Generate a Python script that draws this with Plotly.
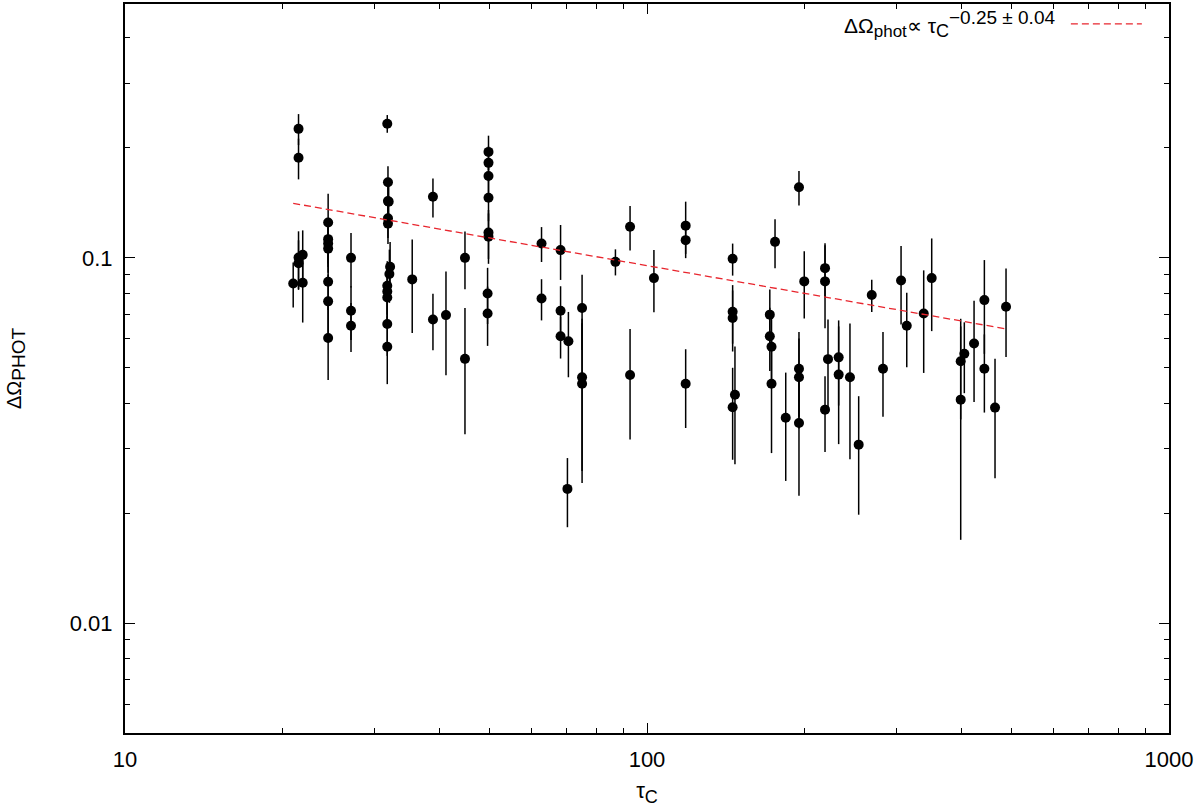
"""Photometric differential rotation vs convective turnover time (log-log)."""
import plotly.graph_objects as go

# convective turnover time (days)
tau_c = [21.0, 21.5, 21.5, 21.5, 21.5, 21.9, 21.9,
         24.5, 24.5, 24.5, 24.5, 24.5, 24.5, 24.5,
         27.1, 27.1, 27.1,
         31.8, 31.9, 31.9, 32.0, 31.9, 31.9, 32.2, 32.1, 31.8, 31.8, 31.8, 31.8, 31.8,
         35.5, 38.9, 38.9, 41.2, 44.8, 44.8,
         49.7, 49.7, 49.7, 49.7, 49.7, 49.7, 49.5, 49.5,
         62.8, 62.8, 68.3, 68.3, 68.3, 70.7, 70.4, 75.1, 75.1, 75.1,
         87.0, 92.8, 92.8, 103.1, 118.6, 118.6, 118.6,
         145.9, 145.9, 145.9, 147.4, 145.9,
         171.9, 171.9, 173.2, 173.2, 175.9, 184.4,
         195.5, 195.5, 195.5, 195.5, 200.1,
         219.3, 219.3, 219.3, 222.2, 232.9, 232.9, 244.8, 254.4, 269.5, 283.2,
         306.7, 314.5, 338.9, 351.1, 399.0, 405.4, 399.0, 423.2, 442.9, 442.9,
         464.2, 487.3]

# photometric shear
d_omega = [0.0851, 0.2255, 0.188, 0.1002, 0.0967, 0.1019, 0.0855,
           0.1249, 0.1125, 0.1094, 0.106, 0.086, 0.076, 0.0603,
           0.1, 0.0716, 0.0652,
           0.233, 0.161, 0.143, 0.1425, 0.1284, 0.1241, 0.0945, 0.0903, 0.0839, 0.0809, 0.0779, 0.0659, 0.0571,
           0.0873, 0.147, 0.0678, 0.0697, 0.1, 0.0529,
           0.195, 0.182, 0.1675, 0.146, 0.1173, 0.1143, 0.0799, 0.0704,
           0.1094, 0.0774, 0.105, 0.0716, 0.061, 0.0591, 0.0233, 0.0729, 0.0471, 0.0452,
           0.0975, 0.1217, 0.0478, 0.088, 0.1225, 0.1118, 0.0452,
           0.0994, 0.0712, 0.0684, 0.0422, 0.039,
           0.0699, 0.061, 0.0571, 0.0452, 0.1106, 0.0365,
           0.156, 0.0497, 0.0471, 0.0353, 0.0862,
           0.0937, 0.0862, 0.0384, 0.0528, 0.0534, 0.0479, 0.0471, 0.0308, 0.0791, 0.0497,
           0.0867, 0.0652, 0.0704, 0.088, 0.0521, 0.0546, 0.0409, 0.0583, 0.0766, 0.0497,
           0.0389, 0.0735]

d_omega_err = [0.012, 0.022, 0.024, 0.018, 0.015, 0.017, 0.019,
               0.025, 0.016, 0.015, 0.015, 0.014, 0.014, 0.014,
               0.017, 0.012, 0.010,
               0.013, 0.017, 0.016, 0.016, 0.015, 0.015, 0.016, 0.015, 0.014, 0.013, 0.013, 0.012, 0.012,
               0.025, 0.018, 0.012, 0.022, 0.018, 0.020,
               0.021, 0.020, 0.020, 0.020, 0.018, 0.018, 0.014, 0.013,
               0.012, 0.010, 0.018, 0.012, 0.008, 0.012, 0.005, 0.017, 0.021, 0.021,
               0.008, 0.017, 0.016, 0.017, 0.020, 0.012, 0.011,
               0.010, 0.013, 0.013, 0.015, 0.011,
               0.012, 0.012, 0.013, 0.016, 0.017, 0.012,
               0.017, 0.013, 0.013, 0.013, 0.018,
               0.016, 0.022, 0.009, 0.015, 0.014, 0.017, 0.019, 0.011, 0.008, 0.013,
               0.021, 0.015, 0.022, 0.025, 0.016, 0.012, 0.024, 0.018, 0.022, 0.012,
               0.014, 0.020]

# power-law fit, end points of the plotted segment
fit_tau = [21.0, 487.3]
fit_omega = [0.141, 0.0639]

x_ticks = [10, 100, 1000]
x_minor = [20, 30, 40, 50, 60, 70, 80, 90, 200, 300, 400, 500, 600, 700, 800, 900]
y_ticks = [0.01, 0.1]
y_minor = [0.006, 0.007, 0.008, 0.009, 0.02, 0.03, 0.04, 0.05, 0.06, 0.07, 0.08, 0.09,
           0.2, 0.3, 0.4]

FONT = 'Liberation Sans, Arial, sans-serif'
RED = '#e8262e'

fig = go.Figure()

fig.add_trace(go.Scatter(
    x=tau_c,
    y=d_omega,
    mode='markers',
    marker=dict(color='black', size=10),
    error_y=dict(type='data', array=d_omega_err, color='black', thickness=1.5, width=0),
    showlegend=False
))

fig.add_trace(go.Scatter(
    x=fit_tau,
    y=fit_omega,
    mode='lines',
    line=dict(color=RED, width=1.3, dash='7px,4px'),
    showlegend=False
))

# legend drawn by hand, gnuplot style (text then sample)
fig.add_annotation(
    xref='paper', yref='paper', x=0.893, y=0.973,
    xanchor='right', yanchor='middle', showarrow=False,
    text=('ΔΩ<sub><span style="font-size:17px">phot</span></sub>∝ '
          'τ<sub><span style="font-size:18px">C</span></sub>'
          '<sup><span style="font-size:19px">−0.25 ± 0.04</span></sup>'),
    font=dict(size=21, color='black', family=FONT)
)
fig.add_shape(
    type='line', xref='paper', yref='paper',
    x0=0.906, x1=0.974, y0=0.9726, y1=0.9726,
    line=dict(color=RED, width=1.3, dash='7px,4px')
)

axis_common = dict(
    type='log',
    showline=True, linecolor='black', linewidth=2,
    mirror='ticks', ticks='inside', ticklen=10, tickwidth=1.3, tickcolor='black',
    showgrid=False, zeroline=False,
    tickfont=dict(size=22, color='black', family=FONT),
)

fig.update_xaxes(
    **axis_common,
    range=[1, 3],
    tickmode='array', tickvals=x_ticks, ticktext=['10', '100', '1000'],
    ticklabelstandoff=6,
    minor=dict(tickmode='array', tickvals=x_minor, ticks='inside', ticklen=5,
               tickwidth=1.3, tickcolor='black', showgrid=False),
    title=dict(text='τ<sub><span style="font-size:18px">C</span></sub>',
               font=dict(size=22, color='black', family=FONT), standoff=16),
)
fig.update_yaxes(
    **axis_common,
    range=[-2.301, -0.305],
    tickmode='array', tickvals=y_ticks, ticktext=['0.01', '0.1'],
    ticklabelstandoff=6,
    minor=dict(tickmode='array', tickvals=y_minor, ticks='inside', ticklen=5,
               tickwidth=1.3, tickcolor='black', showgrid=False),
    title=dict(text='ΔΩ<sub><span style="font-size:19px">PHOT</span></sub>',
               font=dict(size=20, color='black', family=FONT), standoff=43),
)

fig.update_layout(
    width=1200, height=807,
    margin=dict(l=125, r=31, t=4, b=74, autoexpand=False),
    plot_bgcolor='white', paper_bgcolor='white',
    font=dict(family=FONT, color='black'),
)

fig.write_html("out.html", config={'displayModeBar': False},
               post_script="document.body.style.margin='0';")
